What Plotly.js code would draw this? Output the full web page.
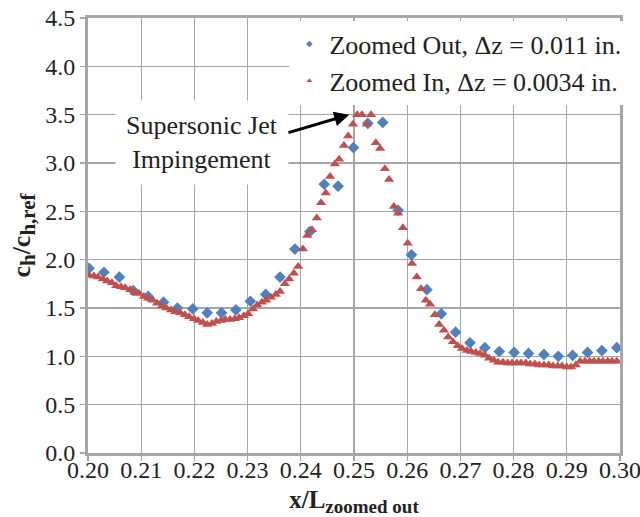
<!DOCTYPE html>
<html>
<head>
<meta charset="utf-8">
<script src="https://cdn.plot.ly/plotly-3.0.1.min.js"></script>
<style>html,body{margin:0;padding:0;background:#fff;}#chart{width:640px;height:517px;}</style>
</head>
<body>
<div id="chart"></div>
<script>
// Zoomed Out, Δz = 0.011 in. (blue diamonds)
const outX = [0.2002,0.2030,0.2059,0.2085,0.2113,0.2142,0.2168,0.2197,0.2224,0.2251,0.2278,0.2305,0.2334,0.2361,0.2389,0.2417,0.2444,0.2470,0.2499,0.2526,0.2554,0.2583,0.2608,0.2637,0.2664,0.2691,0.2718,0.2746,0.2773,0.2801,0.2828,0.2857,0.2884,0.2911,0.2939,0.2966,0.2994];
const outY = [1.91,1.87,1.82,1.68,1.62,1.56,1.50,1.49,1.45,1.45,1.48,1.57,1.64,1.82,2.11,2.29,2.78,2.76,3.16,3.41,3.42,2.51,2.05,1.69,1.44,1.25,1.14,1.09,1.05,1.04,1.03,1.02,1.00,1.01,1.04,1.06,1.09];

// Zoomed In, Δz = 0.0034 in. (red triangles)
const inX = [0.2002,0.2011,0.2019,0.2028,0.2036,0.2045,0.2053,0.2062,0.2070,0.2079,
0.2088,0.2096,0.2105,0.2113,0.2122,0.2130,0.2139,0.2147,0.2156,0.2164,
0.2173,0.2182,0.2190,0.2199,0.2207,0.2216,0.2224,0.2233,0.2241,0.2250,
0.2258,0.2267,0.2276,0.2284,0.2293,0.2301,0.2310,0.2318,0.2327,0.2335,
0.2344,0.2353,0.2361,0.2370,0.2378,0.2387,0.2395,0.2404,0.2412,0.2421,
0.2430,0.2438,0.2447,0.2455,0.2464,0.2472,0.2481,0.2489,0.2498,0.2506,
0.2515,0.2524,0.2532,0.2541,0.2549,0.2558,0.2566,0.2575,0.2583,0.2592,
0.2601,0.2609,0.2618,0.2626,0.2635,0.2643,0.2652,0.2660,0.2669,0.2677,
0.2686,0.2695,0.2703,0.2712,0.2720,0.2729,0.2737,0.2746,0.2754,0.2763,
0.2771,0.2780,0.2789,0.2797,0.2806,0.2814,0.2823,0.2831,0.2840,0.2848,
0.2857,0.2866,0.2874,0.2883,0.2891,0.2900,0.2908,0.2917,0.2925,0.2934,
0.2943,0.2951,0.2960,0.2968,0.2977,0.2985,0.2994];
const inY = [1.84,1.83,1.82,1.80,1.78,1.76,1.73,1.72,1.71,1.69,
1.66,1.65,1.62,1.60,1.58,1.55,1.52,1.50,1.48,1.46,
1.45,1.43,1.41,1.39,1.37,1.35,1.33,1.34,1.36,1.37,
1.38,1.38,1.39,1.40,1.42,1.44,1.49,1.53,1.56,1.58,
1.61,1.64,1.67,1.75,1.80,1.86,1.93,2.11,2.25,2.31,
2.43,2.59,2.69,2.86,2.99,3.04,3.18,3.28,3.40,3.50,
3.50,3.40,3.50,3.21,3.15,2.94,2.83,2.55,2.48,2.33,
2.17,1.96,1.82,1.70,1.58,1.54,1.43,1.33,1.27,1.20,
1.15,1.11,1.08,1.06,1.05,1.04,1.03,1.01,0.98,0.96,
0.94,0.94,0.93,0.93,0.93,0.93,0.93,0.92,0.92,0.91,
0.91,0.91,0.90,0.90,0.90,0.89,0.89,0.91,0.95,0.95,
0.95,0.95,0.95,0.95,0.95,0.95,0.95];

const legendLabels = ["Zoomed Out, \u0394z = 0.011 in.", "Zoomed In, \u0394z = 0.0034 in."];
const blue = "#4F81BD", red = "#C0504D";
const FONT = "Liberation Serif";

const traces = [
  {x: outX, y: outY, type: "scatter", mode: "markers", showlegend: false,
   marker: {symbol: "diamond", size: 9, color: blue}},
  {x: inX, y: inY, type: "scatter", mode: "markers", showlegend: false,
   marker: {symbol: "triangle-up", size: 9, color: red}},
  {x: [null], y: [null], type: "scatter", mode: "markers", name: legendLabels[0],
   marker: {symbol: "diamond", size: 5, color: blue}},
  {x: [null], y: [null], type: "scatter", mode: "markers", name: legendLabels[1],
   marker: {symbol: "triangle-up", size: 5, color: red}}
];

const axisCommon = {
  showgrid: true, gridcolor: "#a6a6a6", gridwidth: 1.2,
  showline: true, linecolor: "#a6a6a6", linewidth: 3, mirror: true,
  ticks: "outside", ticklen: 5, tickcolor: "#a6a6a6", tickwidth: 1.2,
  zeroline: false, automargin: false, ticklabeloverflow: "allow",
  tickfont: {family: FONT, size: 24, color: "#222"}
};

const layout = {
  width: 640, height: 517,
  margin: {l: 88, r: 20, t: 18, b: 64},
  paper_bgcolor: "#fff", plot_bgcolor: "#fff",
  font: {family: FONT, color: "#222"},
  xaxis: Object.assign({}, axisCommon, {
    range: [0.2, 0.3], dtick: 0.01, tick0: 0.2, tickformat: ".2f", ticklabelstandoff: -12,
    title: {text: "<b>x/L<sub><span style=\"font-size:19px\">zoomed out</span></sub></b>",
            font: {family: FONT, size: 25, color: "#222"}, standoff: 16}
  }),
  yaxis: Object.assign({}, axisCommon, {
    range: [0, 4.5], dtick: 0.5, tick0: 0, tickformat: ".1f",
    title: {text: "<b>c<sub><span style=\"font-size:21px\">h</span></sub>/c<sub><span style=\"font-size:21px\">h,ref</span></sub></b>",
            font: {family: FONT, size: 26, color: "#222"}, standoff: 8}
  }),
  legend: {x: 1.012, xanchor: "right", y: 0.994, yanchor: "top", bgcolor: "#fff",
    font: {family: FONT, size: 26, color: "#222"}, itemwidth: 30, tracegroupgap: 0},
  annotations: [
    {x: 0.2214, y: 3.21, xref: "x", yref: "y", showarrow: false,
     text: "Supersonic Jet<br>Impingement", font: {family: FONT, size: 26, color: "#222"},
     bgcolor: "#fff", borderpad: 10},
    {x: 0.2491, y: 3.50, xref: "x", yref: "y", axref: "x", ayref: "y",
     ax: 0.2374, ay: 3.31, text: "", showarrow: true, arrowhead: 2, arrowsize: 1,
     arrowwidth: 3, arrowcolor: "#000"}
  ]
};

Plotly.newPlot("chart", traces, layout, {displayModeBar: false, staticPlot: true});
</script>
</body>
</html>
